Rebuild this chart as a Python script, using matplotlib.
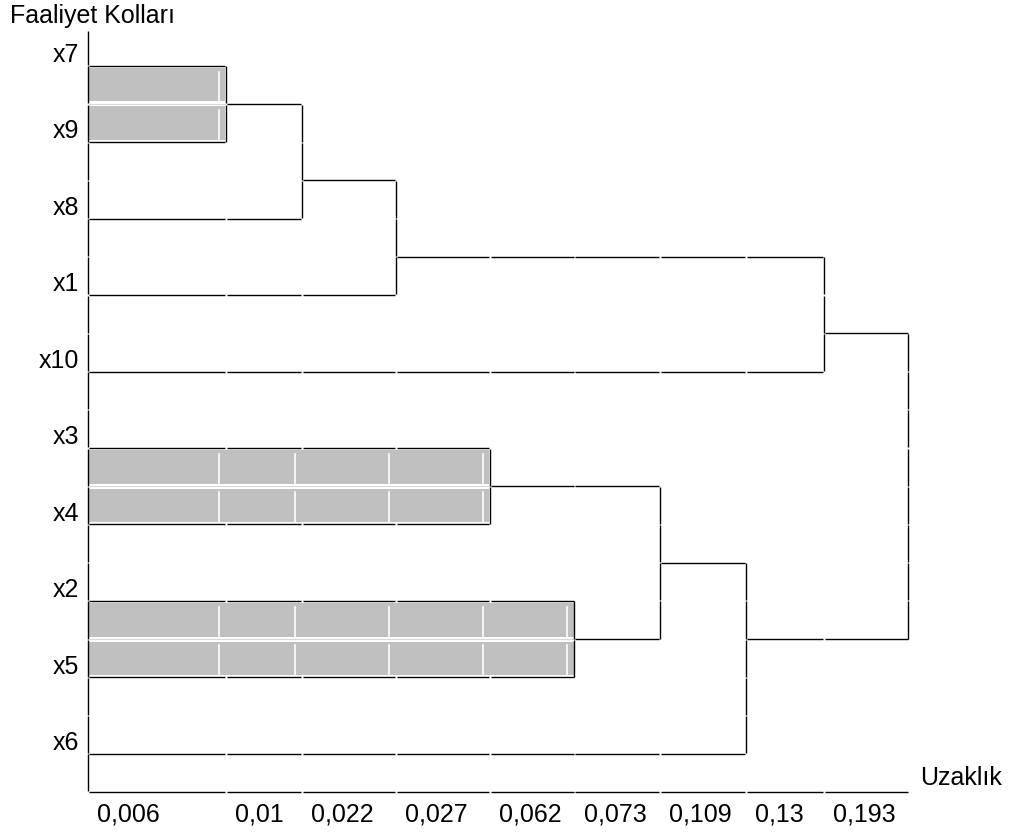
"""
Icicle-style dendrogram of the activity branches (Faaliyet Kolları).
"""

import matplotlib
matplotlib.use("Agg")
import matplotlib.pyplot as plt
from matplotlib.patches import Rectangle

plt.rcParams["font.family"] = ["Liberation Sans", "DejaVu Sans"]

# leaves in plotting order, top to bottom
leaves = ["x7", "x9", "x8", "x1", "x10", "x3", "x4", "x2", "x5", "x6"]
# merge distances, one column per step
distances = ["0,006", "0,01", "0,022", "0,027", "0,062", "0,073", "0,109", "0,13", "0,193"]
# each step joins the clusters holding these two leaves
merges = [
    ("x7", "x9"),
    ("x7", "x8"),
    ("x7", "x1"),
    ("x3", "x4"),
    ("x2", "x5"),
    ("x3", "x2"),
    ("x3", "x6"),
    ("x7", "x10"),
    ("x7", "x3"),
]
# column widths in pixels (the SPSS layout is not to scale)
col_widths = [138, 76, 94, 94, 84.5, 85.5, 86, 78, 84.5]

edges = [0]
for w in col_widths:
    edges.append(edges[-1] + w)
n_rows = 2 * len(leaves)
row_px = (792 - 27.5) / n_rows
FS = 18

fig = plt.figure(figsize=(10.12, 8.35), dpi=100)
ax = fig.add_axes([88 / 1012, 1 - 792 / 835, (908.5 - 88) / 1012, (792 - 27.5) / 835])
ax.set_xlim(0, edges[-1])
ax.set_ylim(n_rows, 0)
ax.axis("off")

LW = 1.0
gx = 0.6  # half gap in px at cell borders
gy = gx / row_px


def hline(y, x0, x1):
    cuts = [x0] + [e for e in edges if x0 < e < x1] + [x1]
    for a, b in zip(cuts[:-1], cuts[1:]):
        ax.plot([a + gx, b - gx], [y, y], color="black", lw=LW,
                solid_capstyle="butt", clip_on=False)


def vline(x, y0, y1):
    lo, hi = min(y0, y1), max(y0, y1)
    cuts = [lo] + [r for r in range(n_rows + 1) if lo < r < hi] + [hi]
    for a, b in zip(cuts[:-1], cuts[1:]):
        ax.plot([x, x], [a + gy, b - gy], color="black", lw=LW,
                solid_capstyle="butt", clip_on=False)


# axes frame
vline(0, 0.07, n_rows)
hline(n_rows, 0, edges[-1])

# clusters: leaf -> cluster id, cluster -> (y, x_start, is_leaf)
owner = {name: name for name in leaves}
nodes = {name: (2 * k + 1, 0, True) for k, name in enumerate(leaves)}

for step, (a, b) in enumerate(merges):
    ca, cb = owner[a], owner[b]
    ya, xa, la = nodes[ca]
    yb, xb, lb = nodes[cb]
    xm = edges[step + 1]
    ymid = round((ya + yb) / 2)
    if la and lb:
        top, bot = min(ya, yb), max(ya, yb)
        for r0, r1 in [(top, ymid), (ymid, bot)]:
            ax.add_patch(Rectangle((0.8, r0 + 2.5 / row_px), xm - 1.6,
                                   (r1 - r0) - 5 / row_px, facecolor="#c0c0c0",
                                   edgecolor="none", clip_on=False))
            for e in edges[1:step + 2]:
                ax.plot([e - 7, e - 7], [r0 + 6 / row_px, r1 - 2.5 / row_px],
                        color="white", lw=1.2, clip_on=False)
        ax.plot([0.8, xm - 0.8], [ymid, ymid], color="#d8d8d8", lw=0.8, clip_on=False)
    hline(ya, xa, xm)
    hline(yb, xb, xm)
    vline(xm, ya, yb)
    nodes[ca] = (ymid, xm, False)
    for name, c in owner.items():
        if c == cb:
            owner[name] = ca

# leaf labels
for k, name in enumerate(leaves):
    ax.text(-9, 2 * k + 0.9, name, ha="right", va="baseline", fontsize=FS, clip_on=False)

# distance labels under each column
for e, lab in zip(edges[:-1], distances):
    ax.text(e + 9.5, n_rows + 0.78, lab, ha="left", va="baseline", fontsize=FS, clip_on=False)

fig.text(10 / 1012, 1 - 23 / 835, "Faaliyet Kolları", ha="left", va="baseline", fontsize=FS)
fig.text(920 / 1012, 1 - 785 / 835, "Uzaklık", ha="left", va="baseline", fontsize=FS)

fig.savefig("out.png", dpi=100)
